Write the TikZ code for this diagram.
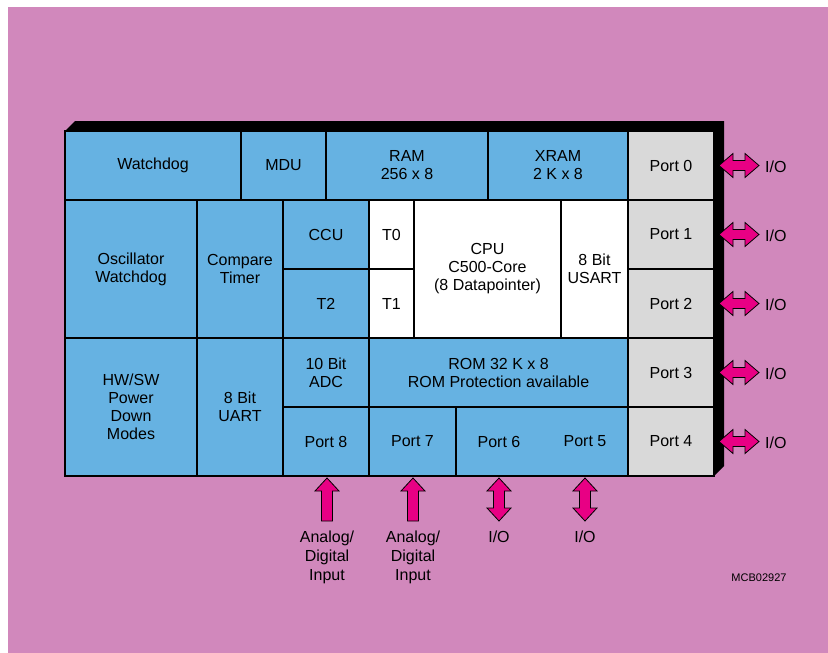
\documentclass[tikz,border=0pt]{standalone}
\usepackage{fontspec}
\setmainfont{Liberation Sans}
\usetikzlibrary{calc}
\definecolor{bgpink}{RGB}{209,136,188}
\definecolor{chipblue}{RGB}{102,178,226}
\definecolor{portgray}{RGB}{217,217,217}
\definecolor{iomag}{RGB}{232,0,132}
\begin{document}
\begin{tikzpicture}[x=1pt,y=-1pt,
    blk/.style={draw, line width=1.6pt, fill=chipblue, inner sep=0pt, outer sep=0pt,
        align=center, font=\fontsize{16}{18}\selectfont},
    wblk/.style={blk, fill=white},
    pblk/.style={blk, fill=portgray},
    lbl/.style={inner sep=0pt, align=center, font=\fontsize{16}{19}\selectfont},
    hbidir/.pic={\draw[fill=iomag, line width=0.8pt] (-20,0) -- (-6,-12) -- (-6,-5) -- (6,-5)
        -- (6,-12) -- (20,0) -- (6,12) -- (6,5) -- (-6,5) -- (-6,12) -- cycle;},
    vbidir/.pic={\draw[fill=iomag, line width=0.8pt] (0,-21.5) -- (12,-8.5) -- (5.5,-8.5) -- (5.5,8.5)
        -- (12,8.5) -- (0,21.5) -- (-12,8.5) -- (-5.5,8.5) -- (-5.5,-8.5) -- (-12,-8.5) -- cycle;},
    upin/.pic={\draw[fill=iomag, line width=0.8pt] (0,-21.5) -- (12,-8.5) -- (5.5,-8.5) -- (5.5,21.5)
        -- (-5.5,21.5) -- (-5.5,-8.5) -- (-12,-8.5) -- cycle;}]
    \useasboundingbox (0,0) rectangle (828,653);
    \fill[white] (0,0) rectangle (828,653);
    \fill[bgpink] (8,7) rectangle (828,653);

    % shadow of the chip
    \fill[black] (65,131) -- (75,121) -- (724,121) -- (724,466) -- (714,476) -- cycle;

    % first row
    \node[blk, minimum width=176, minimum height=69] (wdog) at (153,165.5) {Watchdog};
    \node[blk, minimum width=85, minimum height=69] (mdu) at (283.5,165.5) {MDU};
    \node[blk, minimum width=162, minimum height=69] (ram) at (407,165.5) {RAM\\256 x 8};
    \node[blk, minimum width=140, minimum height=69] (xram) at (558,165.5) {XRAM\\2 K x 8};
    \node[pblk, minimum width=86, minimum height=69] (port0) at (671,165.5) {Port 0};

    % second and third row
    \node[blk, minimum width=132, minimum height=138] (osc) at (131,269) {Oscillator\\Watchdog};
    \node[blk, minimum width=86, minimum height=138] (cmp) at (240,269) {Compare\\Timer};
    \node[blk, minimum width=86, minimum height=69] (ccu) at (326,234.5) {CCU};
    \node[blk, minimum width=86, minimum height=69] (t2) at (326,303.5) {T2};
    \node[wblk, minimum width=45, minimum height=69] (t0) at (391.5,234.5) {T0};
    \node[wblk, minimum width=45, minimum height=69] (t1) at (391.5,303.5) {T1};
    \node[wblk, minimum width=147, minimum height=138] (cpu) at (487.5,269) {CPU\\C500-Core\\(8 Datapointer)};
    \node[wblk, minimum width=67, minimum height=138] (usart) at (594.5,269) {8 Bit\\USART};
    \node[pblk, minimum width=86, minimum height=69] (port1) at (671,234.5) {Port 1};
    \node[pblk, minimum width=86, minimum height=69] (port2) at (671,303.5) {Port 2};

    % fourth and fifth row
    \node[blk, minimum width=132, minimum height=138] (pwr) at (131,407) {HW/SW\\Power\\Down\\Modes};
    \node[blk, minimum width=86, minimum height=138] (uart) at (240,407) {8 Bit\\UART};
    \node[blk, minimum width=86, minimum height=69] (adc) at (326,372.5) {10 Bit\\ADC};
    \node[blk, minimum width=259, minimum height=69] (rom) at (498.5,372.5) {ROM 32 K x 8\\ROM Protection available};
    \node[blk, minimum width=86, minimum height=69] (port8) at (326,441.5) {Port 8};
    \node[blk, minimum width=87, minimum height=69] (port7) at (412.5,441.5) {Port 7};
    \node[blk, minimum width=172, minimum height=69] (port65) at (542,441.5) {};
    \node[lbl] (port6) at ($(port65.center)+(-43,0)$) {Port 6};
    \node[lbl] (port5) at ($(port65.center)+(43,0)$) {Port 5};
    \node[pblk, minimum width=86, minimum height=69] (port3) at (671,372.5) {Port 3};
    \node[pblk, minimum width=86, minimum height=69] (port4) at (671,441.5) {Port 4};

    % ports on the right
    \foreach \p in {0,...,4} {
        \pic at ($(port\p.east)+(25,0)$) {hbidir};
        \node[lbl, anchor=west] (io\p) at ($(port\p.east)+(51,1)$) {I/O};
    }

    % ports at the bottom
    \pic at ($(port8.south)+(1,23.5)$) {upin};
    \pic at ($(port7.south)+(0.5,23.5)$) {upin};
    \pic at ($(port6.center)+(0,58)$) {vbidir};
    \pic at ($(port5.center)+(0,58)$) {vbidir};
    \node[lbl, anchor=north] (ain8) at ($(port8.south)+(1,55)$) {Analog/\\Digital\\Input};
    \node[lbl, anchor=north] (ain7) at ($(port7.south)+(0.5,55)$) {Analog/\\Digital\\Input};
    \node[lbl, anchor=north] (io6) at ($(port6.center)+(0,89.5)$) {I/O};
    \node[lbl, anchor=north] (io5) at ($(port5.center)+(0,89.5)$) {I/O};

    \node[inner sep=0pt, font=\fontsize{11}{12}\selectfont] (fig) at (759,578) {MCB02927};
\end{tikzpicture}
\end{document}
